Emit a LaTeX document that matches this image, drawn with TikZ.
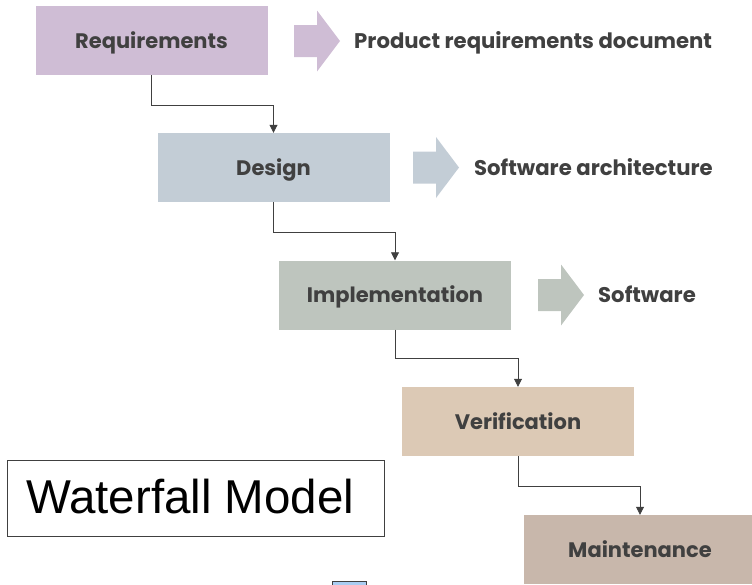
\documentclass[tikz,border=0pt]{standalone}
\usepackage{fontspec}
\setmainfont{Poppins}
\newfontfamily\arialf{Liberation Sans}
\usetikzlibrary{arrows.meta,calc}
\definecolor{txt}{HTML}{404040}
\definecolor{cReq}{HTML}{CFBDD5}
\definecolor{cDes}{HTML}{C3CDD6}
\definecolor{cImp}{HTML}{BEC5BE}
\definecolor{cVer}{HTML}{DCC9B5}
\definecolor{cMai}{HTML}{C8B7AB}
\definecolor{iconblue}{HTML}{A9CDF2}
\newcommand\blockarrow[2]{%
  \fill[#2] (#1) ++(0,-16) -- ++(23,0) -- ++(0,-14.5) -- ++(23,30.5)
    -- ++(-23,30.5) -- ++(0,-14.5) -- ++(-23,0) -- cycle;}
\tikzset{
  stage/.style={minimum width=232pt, minimum height=69pt, inner sep=0pt,
    font=\fontsize{21}{24}\selectfont\bfseries, text=txt,
    text height=15pt, text depth=0pt},
  outtext/.style={anchor=base west, inner sep=0pt,
    font=\fontsize{21.2}{24}\selectfont\bfseries, text=txt},
  conn/.style={draw=txt, line width=0.8pt, -{Triangle[width=8pt,length=8pt]}}
}
\begin{document}
\begin{tikzpicture}[x=1pt,y=-1pt]
\useasboundingbox (0,0) rectangle (752,584);
\clip (0,0) rectangle (752,584);
% stages
\node[stage, fill=cReq] (req) at (151.5,40.5) {Requirements};
\node[stage, fill=cDes] (des) at (273.5,167.5) {Design};
\node[stage, fill=cImp] (imp) at (395,295) {Implementation};
\node[stage, fill=cVer] (ver) at (518,421.5) {Verification};
\node[stage, fill=cMai] (mai) at (640,549.5) {Maintenance};
% block arrows
\coordinate (a1) at (294,41);
\coordinate (a2) at (413,167.5);
\coordinate (a3) at (538,295);
\blockarrow{a1}{cReq}
\blockarrow{a2}{cDes}
\blockarrow{a3}{cImp}
% outputs
\node[outtext] (o1) at (354,48) {Product requirements document};
\node[outtext] (o2) at (474,175) {Software architecture};
\node[outtext] (o3) at (598,302) {Software};
% connectors
\draw[conn] (req.south) -- ++(0,30) -| (des.north);
\draw[conn] (des.south) -- ++(0,30) -| (imp.north);
\draw[conn] (imp.south) -- ++(0,29) -| (ver.north);
\draw[conn] (ver.south) -- ++(0,30) -| (mai.north);
% title box
\node[draw=txt, line width=0.9pt, minimum width=377pt, minimum height=76pt,
  inner sep=0pt] (tbox) at (195.5,498) {};
\node[anchor=base west, inner sep=0pt, font=\arialf\fontsize{47.5}{50}\selectfont]
  (title) at (26,513) {Waterfall Model};
% small icon
\draw[draw=txt, line width=1pt, fill=iconblue] (332,581) rectangle (366,592);
\end{tikzpicture}
\end{document}
